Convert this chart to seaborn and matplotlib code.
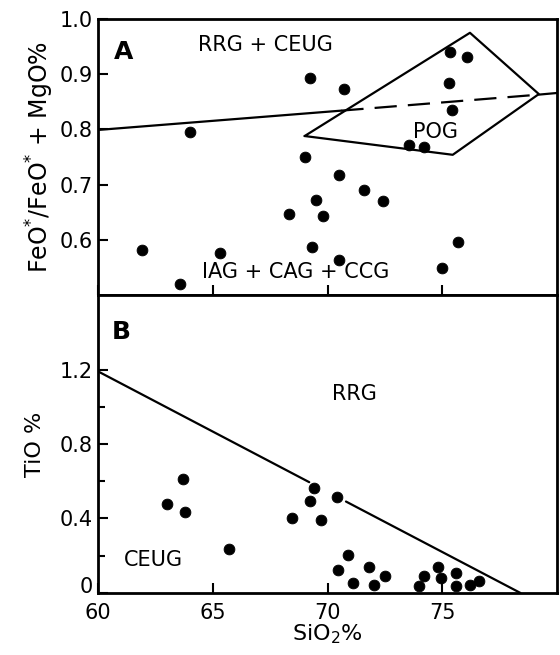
import numpy as np
import pandas as pd
import matplotlib
matplotlib.use("Agg")
import matplotlib.pyplot as plt
import seaborn as sns

# Panel A: FeO*/(FeO*+MgO) vs SiO2
a_sio2 = [75.35, 76.05, 69.25, 70.7, 75.3, 75.4, 64.0, 73.55, 74.2, 69.0, 70.5, 71.6,
          72.4, 69.5, 69.8, 68.3, 75.7, 61.9, 69.3, 65.3, 70.5, 75.0, 63.55]
a_ratio = [0.94, 0.931, 0.893, 0.873, 0.884, 0.835, 0.795, 0.772, 0.768, 0.75, 0.717, 0.69,
           0.67, 0.672, 0.643, 0.647, 0.596, 0.582, 0.587, 0.576, 0.563, 0.549, 0.52]

# Panel B: TiO vs SiO2
b_sio2 = [63.7, 63.0, 63.8, 65.7, 69.4, 69.25, 70.4, 68.45, 69.7, 70.9, 70.45, 71.1,
          71.8, 72.5, 72.0, 74.2, 74.0, 74.8, 74.95, 75.6, 75.6, 76.2, 76.6]
b_tio = [0.61, 0.478, 0.435, 0.234, 0.563, 0.494, 0.515, 0.404, 0.393, 0.202, 0.122, 0.053,
         0.138, 0.09, 0.042, 0.09, 0.037, 0.138, 0.08, 0.106, 0.037, 0.042, 0.064]

# boundaries
pog_x = [69.0, 76.2, 79.2, 75.45, 69.0]
pog_y = [0.788, 0.975, 0.864, 0.754, 0.788]
line_a_x = [60.0, 70.6, 79.2, 80.0]
line_a_y = [0.799, 0.834, 0.863, 0.866]
line_b1_x = [60.0, 69.2]
line_b1_y = [1.19, 0.595]
line_b2_x = [70.8, 78.4]
line_b2_y = [0.491, 0.0]

sns.set_style("ticks")
plt.rcParams['font.family'] = ['DejaVu Sans']
plt.rcParams['text.color'] = 'black'
plt.rcParams['axes.labelcolor'] = 'black'
plt.rcParams['xtick.color'] = 'black'
plt.rcParams['ytick.color'] = 'black'
plt.rcParams['axes.edgecolor'] = 'black'

df_a = pd.DataFrame({"SiO2": a_sio2, "ratio": a_ratio})
df_b = pd.DataFrame({"SiO2": b_sio2, "TiO": b_tio})

fig = plt.figure(figsize=(5.6, 6.55), dpi=100)
ax1 = fig.add_axes([0.175, 0.5496, 0.82, 0.4214])
ax2 = fig.add_axes([0.175, 0.0947, 0.82, 0.4549])

# panel A
sns.scatterplot(data=df_a, x="SiO2", y="ratio", ax=ax1, color="black", s=60, edgecolor="black", legend=False, zorder=3)
ax1.plot(line_a_x[:2], line_a_y[:2], color="black", lw=1.6)
ax1.plot(line_a_x[1:3], line_a_y[1:3], color="black", lw=1.6, dashes=(10, 5))
ax1.plot(line_a_x[2:], line_a_y[2:], color="black", lw=1.6)
ax1.plot(pog_x, pog_y, color="black", lw=1.6)
ax1.set_xlim(60, 80)
ax1.set_ylim(0.5, 1.0)
ax1.set_xticks([60, 65, 70, 75])
ax1.set_xticklabels([])
ax1.set_yticks([0.6, 0.7, 0.8, 0.9, 1.0])
ax1.set_yticklabels(["0.6", "0.7", "0.8", "0.9", "1.0"])
ax1.set_xlabel("")
ax1.set_ylabel(r"FeO$^{*}$/FeO$^{*}$ + MgO%", fontsize=17, labelpad=2)
ax1.text(60.7, 0.94, "A", fontsize=18, fontweight="bold", va="center", ha="left")
ax1.text(67.3, 0.953, "RRG + CEUG", fontsize=15, va="center", ha="center")
ax1.text(74.7, 0.795, "POG", fontsize=15, va="center", ha="center")
ax1.text(68.6, 0.542, "IAG + CAG + CCG", fontsize=15, va="center", ha="center")

# panel B
sns.scatterplot(data=df_b, x="SiO2", y="TiO", ax=ax2, color="black", s=60, edgecolor="black", legend=False, zorder=3)
ax2.plot(line_b1_x, line_b1_y, color="black", lw=1.6)
ax2.plot(line_b2_x, line_b2_y, color="black", lw=1.6)
ax2.set_xlim(60, 80)
ax2.set_ylim(0, 1.6)
ax2.set_xticks([60, 65, 70, 75])
ax2.set_xticklabels(["60", "65", "70", "75"])
ax2.set_yticks([0, 0.4, 0.8, 1.2])
ax2.set_yticklabels(["0", "0.4", "0.8", "1.2"])
ax2.set_yticks([0.2, 0.6, 1.0], minor=True)
ax2.set_xlabel(r"SiO$_2$%", fontsize=16, labelpad=0)
ax2.set_ylabel("TiO %", fontsize=16, labelpad=10)
ax2.text(60.6, 1.40, "B", fontsize=18, fontweight="bold", va="center", ha="left")
ax2.text(71.15, 1.07, "RRG", fontsize=15, va="center", ha="center")
ax2.text(62.4, 0.175, "CEUG", fontsize=15, va="center", ha="center")

for ax in (ax1, ax2):
    ax.tick_params(axis="both", which="major", direction="in", length=7, width=1.5, labelsize=15, pad=4)
    ax.tick_params(axis="both", which="minor", direction="in", length=5, width=1.5)
    for sp in ax.spines.values():
        sp.set_visible(True)
        sp.set_linewidth(2)
        sp.set_color("black")
ax2.tick_params(axis="x", which="major", pad=7)
ax2.get_yticklabels()[0].set_va("baseline")

fig.savefig("out.png", dpi=100)
